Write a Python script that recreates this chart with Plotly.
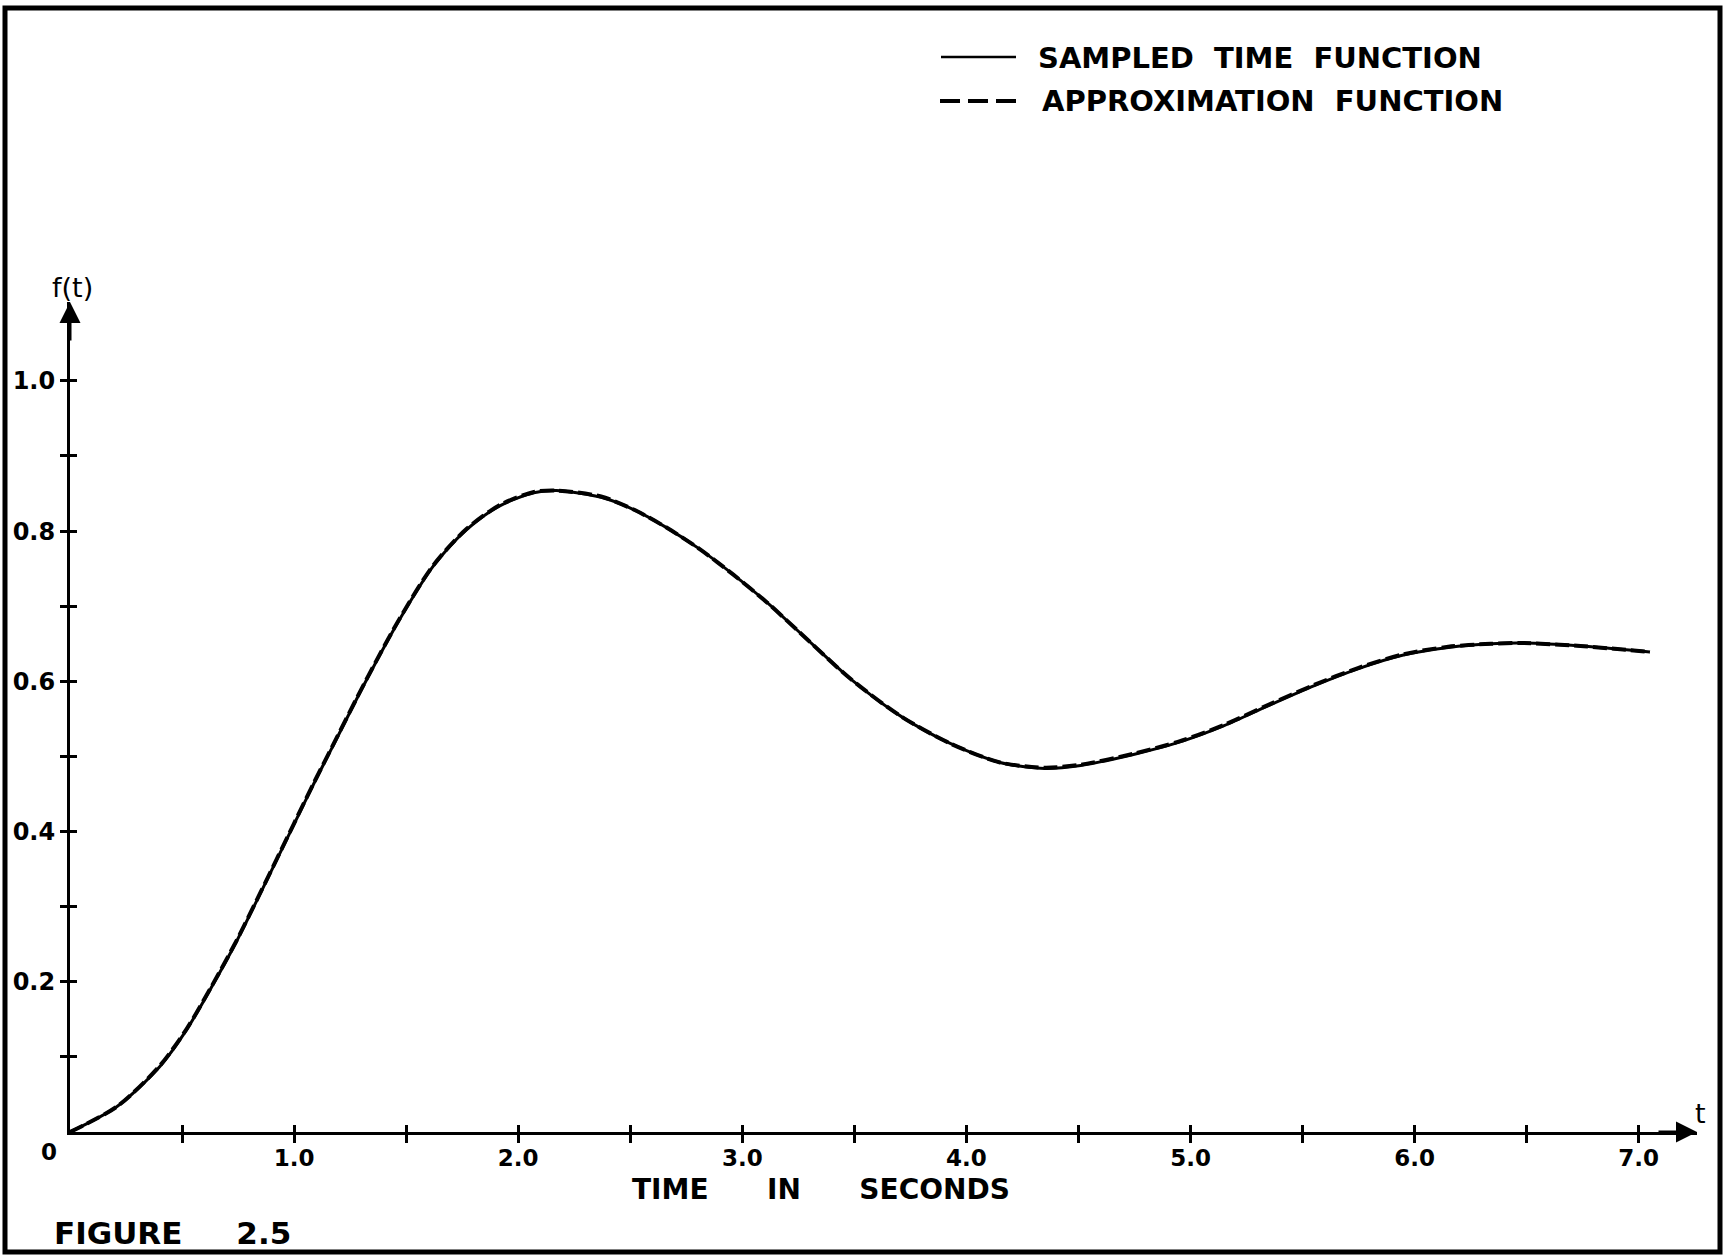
import plotly.graph_objects as go

# ---------------- data ----------------
t_sampled = [0.00, 0.21, 0.40, 0.52, 0.63, 0.74, 0.85, 1.00, 1.09, 1.17, 1.32, 1.47,
             1.62, 1.77, 1.92, 2.07, 2.17, 2.37, 2.52, 2.66, 2.81, 2.96, 3.11, 3.26,
             3.48, 3.71, 3.93, 4.15, 4.35, 4.51, 4.75, 4.95, 5.15, 5.35, 5.55, 5.75,
             5.95, 6.15, 6.34, 6.48, 6.74, 7.05]
f_sampled = [0.000, 0.034, 0.087, 0.136, 0.192, 0.252, 0.318, 0.410, 0.465, 0.512, 0.600, 0.682,
             0.753, 0.802, 0.834, 0.851, 0.854, 0.845, 0.828, 0.805, 0.776, 0.742, 0.705, 0.664,
             0.604, 0.553, 0.517, 0.492, 0.484, 0.488, 0.503, 0.519, 0.541, 0.568, 0.594, 0.617,
             0.635, 0.645, 0.650, 0.651, 0.647, 0.639]

t_approx = [0.00, 0.21, 0.40, 0.52, 0.63, 0.74, 0.85, 1.00, 1.09, 1.17, 1.32, 1.47,
            1.62, 1.77, 1.92, 2.07, 2.17, 2.37, 2.52, 2.66, 2.81, 2.96, 3.11, 3.26,
            3.48, 3.71, 3.93, 4.15, 4.35, 4.51, 4.75, 4.95, 5.15, 5.35, 5.55, 5.75,
            5.95, 6.15, 6.34, 6.48, 6.74, 7.05]
f_approx = [0.000, 0.034, 0.088, 0.137, 0.193, 0.253, 0.319, 0.411, 0.466, 0.513, 0.601, 0.683,
            0.754, 0.803, 0.835, 0.852, 0.854, 0.846, 0.828, 0.805, 0.776, 0.742, 0.705, 0.664,
            0.604, 0.553, 0.517, 0.492, 0.485, 0.489, 0.504, 0.520, 0.542, 0.569, 0.595, 0.618,
            0.636, 0.646, 0.650, 0.651, 0.647, 0.639]

x_tickvals = [0.5, 1.0, 1.5, 2.0, 2.5, 3.0, 3.5, 4.0, 4.5, 5.0, 5.5, 6.0, 6.5, 7.0]
x_ticktext = ["", "1.0", "", "2.0", "", "3.0", "", "4.0", "", "5.0", "", "6.0", "", "7.0"]
y_tickvals = [0.1, 0.2, 0.3, 0.4, 0.5, 0.6, 0.7, 0.8, 0.9, 1.0]
y_ticktext = ["", "0.2", "", "0.4", "", "0.6", "", "0.8", "", "1.0"]

NB = "\u00a0"
legend_labels = ["SAMPLED" + NB + " TIME" + NB + " FUNCTION",
                 "APPROXIMATION" + NB + " FUNCTION"]
x_title = "TIME" + NB * 5 + " IN" + NB * 5 + " SECONDS"
fig_label = "FIGURE" + NB * 4 + " 2.5"

X_MAX = 7.26
Y_MAX = 1.105

# ---------------- layout geometry (pixels) ----------------
W, H = 1724, 1258
L, R, T, B = 70, 1697, 302, 1132


def px(x):
    return (x - L) / (R - L)


def py(y):
    return (B - y) / (B - T)


FONT = "DejaVu Sans"
INK = "black"

fig = go.Figure()
fig.add_trace(go.Scatter(x=t_sampled, y=f_sampled, mode="lines",
                         line=dict(color=INK, width=3, shape="spline", smoothing=0.8),
                         name=legend_labels[0], xaxis="x", yaxis="y"))
fig.add_trace(go.Scatter(x=t_approx, y=f_approx, mode="lines",
                         line=dict(color=INK, width=4, shape="spline", smoothing=0.8,
                                   dash="14px,5px"),
                         name=legend_labels[1], xaxis="x2", yaxis="y2"))

axis_common = dict(showgrid=False, zeroline=False, fixedrange=True)

fig.update_layout(
    width=W, height=H, autosize=False,
    margin=dict(l=L, r=W - R, t=T, b=H - B, pad=0),
    paper_bgcolor="white", plot_bgcolor="white",
    showlegend=False,
    font=dict(family=FONT, color=INK),
    xaxis=dict(range=[0, X_MAX], showline=True, linecolor=INK, linewidth=3,
               tickmode="array", tickvals=x_tickvals, ticktext=x_ticktext,
               ticks="outside", ticklen=8, tickwidth=3, tickcolor=INK,
               tickfont=dict(family=FONT, size=23, color=INK, weight="bold"),
               ticklabelstandoff=-5, **axis_common),
    yaxis=dict(range=[0, Y_MAX], showline=True, linecolor=INK, linewidth=3,
               tickmode="array", tickvals=y_tickvals, ticktext=y_ticktext,
               ticks="outside", ticklen=7, tickwidth=3, tickcolor=INK,
               tickfont=dict(family=FONT, size=24, color=INK, weight="bold"),
               ticklabelstandoff=0, **axis_common),
    xaxis2=dict(range=[0, X_MAX], overlaying="x", anchor="y2", side="bottom",
                showline=False, tickmode="array", tickvals=x_tickvals,
                showticklabels=False, ticks="inside", ticklen=7, tickwidth=3,
                tickcolor=INK, **axis_common),
    yaxis2=dict(range=[0, Y_MAX], overlaying="y", anchor="x2", side="left",
                showline=False, tickmode="array", tickvals=y_tickvals,
                showticklabels=False, ticks="inside", ticklen=7, tickwidth=3,
                tickcolor=INK, **axis_common),
)

# frame around the whole drawing
fig.add_shape(type="rect", xref="paper", yref="paper",
              x0=px(5), x1=px(1720), y0=py(1252), y1=py(8),
              line=dict(color=INK, width=5), fillcolor="rgba(0,0,0,0)")

# legend samples
fig.add_shape(type="line", xref="paper", yref="paper",
              x0=px(941), x1=px(1016), y0=py(57), y1=py(57),
              line=dict(color=INK, width=2.5))
fig.add_shape(type="line", xref="paper", yref="paper",
              x0=px(940), x1=px(1018), y0=py(101), y1=py(101),
              line=dict(color=INK, width=4, dash="20px,8px"))

ann = []
# arrow heads on the axes
ann.append(dict(x=X_MAX, y=0, xref="x", yref="y", ax=-40, ay=0, text="",
                showarrow=True, arrowhead=2, arrowsize=1.4, arrowwidth=3,
                arrowcolor=INK))
ann.append(dict(x=0, y=Y_MAX, xref="x", yref="y", ax=0, ay=40, text="",
                showarrow=True, arrowhead=2, arrowsize=1.4, arrowwidth=3,
                arrowcolor=INK))


def label(text, x, y, size, xanchor="center", weight="bold"):
    ann.append(dict(x=px(x), y=py(y), xref="paper", yref="paper", text=text,
                    showarrow=False, xanchor=xanchor, yanchor="middle",
                    font=dict(family=FONT, size=size, color=INK, weight=weight)))


label("f(t)", 72, 287, 27, weight="normal")
label("t", 1700, 1113, 27, weight="normal")
label("0", 49, 1152, 23)
label(legend_labels[0], 1036, 58, 29, xanchor="left")
label(legend_labels[1], 1040, 101, 29, xanchor="left")
label(x_title, 821, 1189, 28)
label(fig_label, 52, 1233, 31, xanchor="left")

fig.update_layout(annotations=ann)
fig.write_html("out.html")
